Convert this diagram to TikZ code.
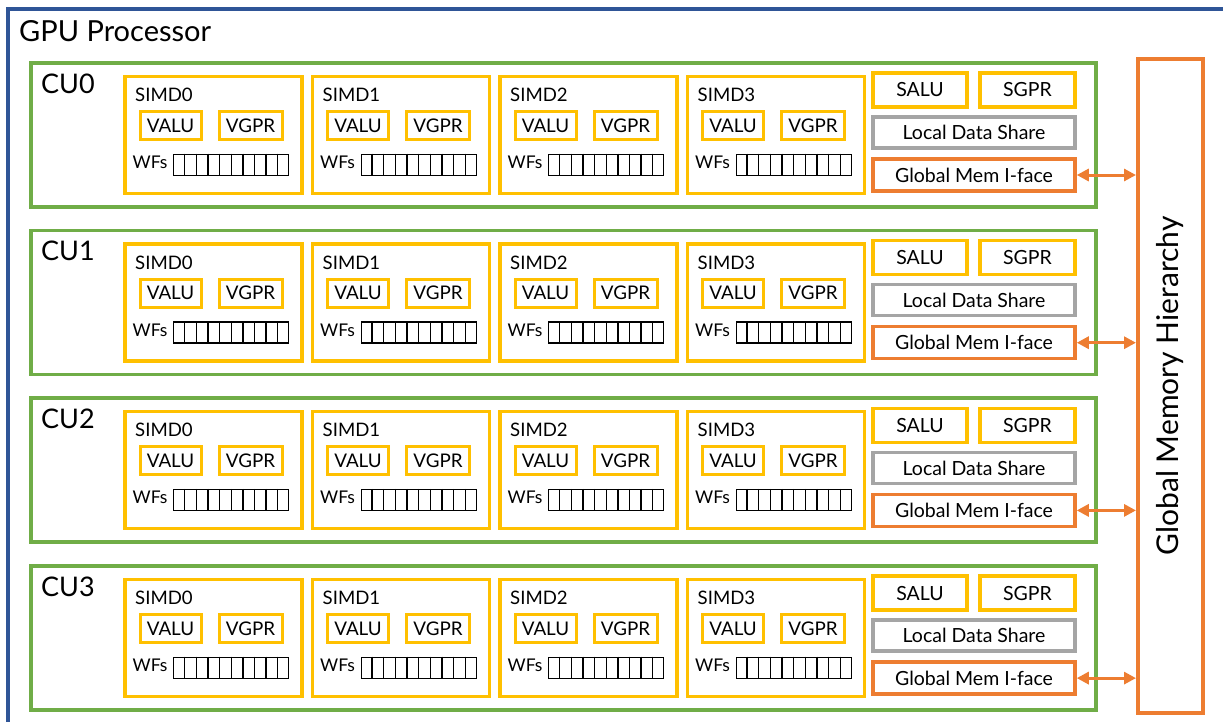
\documentclass[tikz,border=0pt]{standalone}
\usepackage{fontspec}
\setmainfont{Lato}
\usetikzlibrary{arrows.meta,calc}
\definecolor{gpublue}{HTML}{2F5597}
\definecolor{cugreen}{HTML}{70AD47}
\definecolor{unityellow}{HTML}{FFC000}
\definecolor{ldsgray}{HTML}{A5A5A5}
\definecolor{memorange}{HTML}{ED7D31}
\tikzset{
  cubox/.style={draw=cugreen, line width=3.5pt, minimum width=1065pt, minimum height=144pt, anchor=north west, inner sep=0pt},
  simdbox/.style={draw=unityellow, line width=3.5pt, minimum width=177pt, minimum height=117pt, anchor=north west, inner sep=0pt},
  unitbox/.style={draw=unityellow, line width=3pt, minimum width=61pt, minimum height=28pt, inner sep=0pt, font=\fontsize{18.8}{20}\selectfont},
  sidebox/.style={line width=3.5pt, inner sep=0pt, font=\fontsize{19.5}{21}\selectfont},
  wfreg/.style={draw=black, line width=1.4pt, minimum width=115pt, minimum height=21pt, anchor=north west, inner sep=0pt},
  simdlabel/.style={anchor=base west, inner sep=0pt, font=\fontsize{18.6}{20}\selectfont},
  wflabel/.style={anchor=base west, inner sep=0pt, font=\fontsize{17.5}{19}\selectfont},
  culabel/.style={anchor=base west, inner sep=0pt, font=\fontsize{27}{30}\selectfont},
  memlink/.style={draw=memorange, line width=3pt, {Triangle[length=12pt,width=12pt]}-{Triangle[length=12pt,width=12pt]}},
}
\begin{document}
\begin{tikzpicture}[x=1pt,y=-1pt]
\useasboundingbox (0,0) rectangle (1223,721);
\begin{scope}
\clip (0,0) rectangle (1223,721);
% GPU outline (continues past the lower and right edges)
\node[draw=gpublue, line width=4pt, minimum width=1240pt, minimum height=740pt, anchor=north west, inner sep=0pt] (gpu) at (6,7) {};
\end{scope}
\node[anchor=base west, inner sep=0pt, font=\fontsize{29}{32}\selectfont] (gputitle) at (19,41) {GPU Processor};

% Global memory hierarchy column
\node[draw=memorange, line width=4pt, minimum width=65pt, minimum height=654pt, inner sep=0pt] (gmh) at (1170.5,386) {};
\node[rotate=90, font=\fontsize{30}{33}\selectfont, inner sep=0pt] (gmhtext) at (gmh.center) {Global Memory Hierarchy};

\foreach \c in {0,1,2,3} {
  \pgfmathsetmacro{\yc}{61+167.7*\c}
  \node[cubox] (cu\c) at (29,\yc) {};
  \node[culabel] (cul\c) at (41,\yc+32) {CU\c};
  \foreach \s in {0,1,2,3} {
    \pgfmathsetmacro{\xs}{123+187.5*\s}
    \pgfmathsetmacro{\ys}{\yc+13.5}
    \node[simdbox] (simd\c\s) at (\xs,\ys) {};
    \node[simdlabel] (simdl\c\s) at (\xs+12,\ys+27) {SIMD\s};
    \node[unitbox] (valu\c\s) at (\xs+47.5,\ys+51) {VALU};
    \node[unitbox, minimum width=63pt] (vgpr\c\s) at (\xs+127.5,\ys+51) {VGPR};
    \node[wflabel] (wfl\c\s) at (\xs+9.5,\ys+94) {WFs};
    \node[wfreg] (wf\c\s) at (\xs+50,\ys+79) {};
    \foreach \i in {1,...,9}
      \draw[line width=1.4pt] ($(wf\c\s.north west)!\i/10!(wf\c\s.north east)$) -- ($(wf\c\s.south west)!\i/10!(wf\c\s.south east)$);
  }
  \node[sidebox, draw=unityellow, minimum width=94pt, minimum height=34pt] (salu\c) at (920,\yc+29) {SALU};
  \node[sidebox, draw=unityellow, minimum width=95pt, minimum height=34pt] (sgpr\c) at (1027.5,\yc+29) {SGPR};
  \node[sidebox, draw=ldsgray, minimum width=202pt, minimum height=31pt] (lds\c) at (974,\yc+71.5) {Local Data Share};
  \node[sidebox, draw=memorange, minimum width=202pt, minimum height=32pt] (gmi\c) at (974,\yc+114) {Global Mem I-face};
  \draw[memlink] (gmi\c.east) -- (gmi\c.east -| gmh.west);
}
\end{tikzpicture}
\end{document}
